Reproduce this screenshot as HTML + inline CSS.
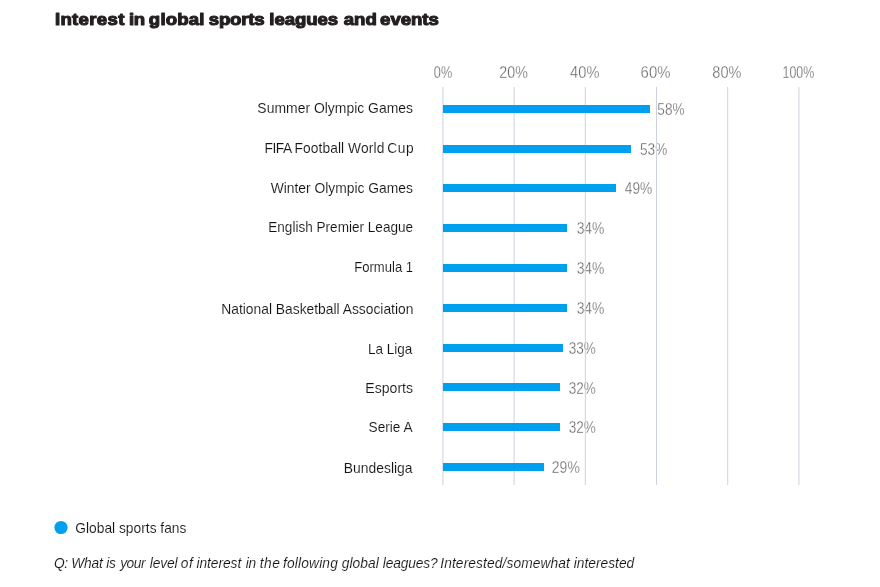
<!DOCTYPE html>
<html><head><meta charset="utf-8"><title>Interest in global sports leagues and events</title>
<style>
html,body{margin:0;padding:0;background:#fff;}
body{width:880px;height:587px;overflow:hidden;}
svg{display:block;font-family:"Liberation Sans",sans-serif;}
.title{font-size:17px;font-weight:bold;fill:#231f20;stroke:#231f20;stroke-width:1.1px;stroke-linejoin:round;}
.tick,.val{font-size:15.7px;fill:#626262;stroke:#fff;stroke-width:0.3px;}
.lab{font-size:14px;fill:#141414;stroke:#fff;stroke-width:0.12px;}
.q{font-size:14px;font-style:italic;fill:#141414;stroke:#fff;stroke-width:0.12px;}
.grid{stroke:#ced2e0;stroke-width:1;}
.bar{fill:#00a0f0;}
</style></head><body>
<svg width="880" height="587" viewBox="0 0 880 587">
<text class="title" transform="translate(54.88 25.1) scale(1.095 1)"><tspan x="0.00" style="letter-spacing:0.307px">Interest </tspan><tspan x="67.76" style="letter-spacing:-0.500px">in </tspan><tspan x="85.84" style="letter-spacing:0.155px">global </tspan><tspan x="140.53" style="letter-spacing:-0.164px">sports </tspan><tspan x="195.82" style="letter-spacing:-0.061px">leagues </tspan><tspan x="263.72" style="letter-spacing:0.091px">and </tspan><tspan x="296.99" style="letter-spacing:-0.027px">events</tspan></text>
<text class="tick" transform="translate(433.85 77.60) scale(0.8101 1)">0%</text>
<text class="tick" transform="translate(499.35 77.60) scale(0.9077 1)">20%</text>
<text class="tick" transform="translate(570.10 77.60) scale(0.9334 1)">40%</text>
<text class="tick" transform="translate(640.60 77.60) scale(0.9496 1)">60%</text>
<text class="tick" transform="translate(712.35 77.60) scale(0.9244 1)">80%</text>
<text class="tick" transform="translate(782.60 77.60) scale(0.7895 1)">100%</text>
<text class="lab" transform="translate(257.35 112.70) scale(0.9961 1)">Summer Olympic Games</text>
<text class="val" transform="translate(657.35 114.90) scale(0.8656 1)">58%</text>
<text class="val" transform="translate(640.05 154.90) scale(0.8656 1)">53%</text>
<text class="lab" transform="translate(270.70 192.70) scale(0.9895 1)">Winter Olympic Games</text>
<text class="val" transform="translate(624.80 194.30) scale(0.8762 1)">49%</text>
<text class="lab" transform="translate(268.25 232.00) scale(0.9698 1)">English Premier League</text>
<text class="val" transform="translate(576.65 234.10) scale(0.8825 1)">34%</text>
<text class="lab" transform="translate(354.25 271.80) scale(0.9336 1)">Formula 1</text>
<text class="val" transform="translate(576.65 274.10) scale(0.8825 1)">34%</text>
<text class="lab" transform="translate(221.25 313.80) scale(0.9886 1)">National Basketball Association</text>
<text class="val" transform="translate(576.65 314.10) scale(0.8825 1)">34%</text>
<text class="lab" transform="translate(368.05 354.00) scale(0.9665 1)">La Liga</text>
<text class="val" transform="translate(568.75 353.90) scale(0.8617 1)">33%</text>
<text class="lab" transform="translate(365.35 393.20) scale(1.0055 1)">Esports</text>
<text class="val" transform="translate(568.75 393.90) scale(0.8617 1)">32%</text>
<text class="lab" transform="translate(368.55 432.00) scale(0.9775 1)">Serie A</text>
<text class="val" transform="translate(568.75 432.90) scale(0.8617 1)">32%</text>
<text class="lab" transform="translate(343.85 473.00) scale(0.9927 1)">Bundesliga</text>
<text class="val" transform="translate(551.85 472.90) scale(0.8909 1)">29%</text>
<text class="lab" transform="translate(75.25 533.00) scale(0.9865 1)">Global sports fans</text>
<text class="lab" transform="translate(264.57 152.7) scale(0.985 1)"><tspan x="0.00" style="letter-spacing:-0.500px">FIFA </tspan><tspan x="30.30" style="letter-spacing:0.109px">Football </tspan><tspan x="84.80" style="letter-spacing:0.127px">World </tspan><tspan x="124.62" style="letter-spacing:0.600px">Cup</tspan></text>
<text class="q" transform="translate(54.05 568) scale(0.985 1)"><tspan x="0.00" style="letter-spacing:-0.500px">Q: </tspan><tspan x="17.44" style="letter-spacing:-0.186px">What </tspan><tspan x="53.12" style="letter-spacing:-0.500px">is </tspan><tspan x="67.16" style="letter-spacing:-0.500px">your </tspan><tspan x="97.13" style="letter-spacing:-0.140px">level </tspan><tspan x="128.58" style="letter-spacing:0.600px">of </tspan><tspan x="144.54" style="letter-spacing:-0.051px">interest </tspan><tspan x="194.54" style="letter-spacing:-0.152px">in </tspan><tspan x="208.91" style="letter-spacing:0.431px">the </tspan><tspan x="232.36" style="letter-spacing:0.171px">following </tspan><tspan x="292.06" style="letter-spacing:0.091px">global </tspan><tspan x="333.83" style="letter-spacing:-0.167px">leagues? </tspan><tspan x="392.11" style="letter-spacing:0.099px">Interested/somewhat </tspan><tspan x="527.61" style="letter-spacing:0.000px">interested</tspan></text>
<line class="grid" x1="442.9" x2="442.9" y1="87" y2="485"/>
<line class="grid" x1="514.1" x2="514.1" y1="87" y2="485"/>
<line class="grid" x1="585.3" x2="585.3" y1="87" y2="485"/>
<line class="grid" x1="656.5" x2="656.5" y1="87" y2="485"/>
<line class="grid" x1="727.7" x2="727.7" y1="87" y2="485"/>
<line class="grid" x1="798.9" x2="798.9" y1="87" y2="485"/>
<rect class="bar" x="443" y="105" width="207" height="8"/>
<rect class="bar" x="443" y="145" width="188" height="8"/>
<rect class="bar" x="443" y="184" width="173" height="8"/>
<rect class="bar" x="443" y="224" width="124" height="8"/>
<rect class="bar" x="443" y="264" width="124" height="8"/>
<rect class="bar" x="443" y="304" width="124" height="8"/>
<rect class="bar" x="443" y="344" width="120" height="8"/>
<rect class="bar" x="443" y="383" width="117" height="8"/>
<rect class="bar" x="443" y="423" width="117" height="8"/>
<rect class="bar" x="443" y="463" width="101" height="8"/>
<circle cx="61" cy="527.5" r="6.6" fill="#00a0f0"/>
</svg></body></html>
